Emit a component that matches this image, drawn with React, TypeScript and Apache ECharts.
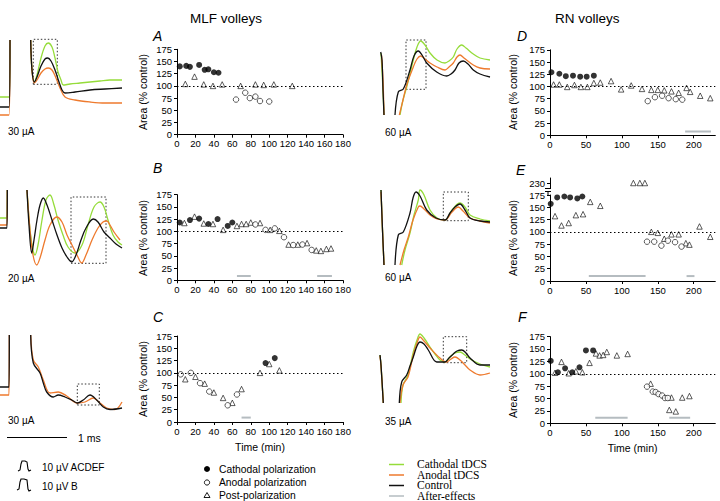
import React, { useEffect, useRef } from "react";
import * as echarts from "echarts";

const GREEN = "#95dc3a";
const ORANGE = "#ee7a2e";
const BLACK = "#111111";
const GRAY = "#b5bcc0";
const FONT = "'Liberation Sans', Arial, Helvetica, sans-serif";
const SERIF = "'Liberation Serif', 'Times New Roman', serif";

// ---------- scatter data: [time (min), area (% control)] ----------
const aCath = [[3,140],[10,141],[14,139],[24,143],[30,133],[34,134],[40,128],[45,127]];
const aAnod = [[64,72],[74,86],[79,75],[85,78],[90,69],[100,68]];
const aPost = [[9,104],[19,119],[29,103],[39,100],[49,103],[69,100],[85,103],[94,102],[105,103],[125,100]];
const aAfter: number[][][] = [];

const bCath = [[3,118],[14,123],[24,126],[34,115],[44,125],[55,111],[60,118]];
const bAnod = [[85,114],[96,103],[106,106],[116,88],[126,72],[136,73],[146,62]];
const bPost = [[8,117],[19,130],[29,116],[39,115],[50,103],[65,111],[70,115],[75,115],[80,118],[90,117],[101,103],[111,101],[121,73],[131,73],[141,76],[151,61],[156,60],[162,64],[167,65]];
const bAfter = [[[65,9],[80,9]],[[152,9],[168,9]]];

const cCath = [[96,120],[106,130]];
const cAnod = [[4,97],[15,100],[25,79],[35,62],[55,34],[65,56]];
const cPost = [[9,87],[20,92],[30,78],[40,60],[50,49],[60,39],[70,67],[90,100],[100,118],[111,105]];
const cAfter = [[[70,9],[80,9]]];

const dCath = [[2,129],[13,126],[22,121],[32,122],[42,120],[51,120],[61,122]];
const dAnod = [[136,70],[146,78],[156,81],[165,76],[175,74],[184,73]];
const dPost = [[5,104],[13,104],[24,99],[34,103],[43,99],[52,99],[61,107],[70,108],[85,111],[99,94],[113,102],[128,95],[141,93],[150,93],[159,92],[169,90],[179,87],[190,97],[195,89],[209,81],[223,76]];
const dAfter = [[[188,8],[224,8]]];

const eCath = [[1,157],[10,170],[20,172],[28,170],[38,168],[45,172]];
const eAnod = [[135,80],[145,80],[155,72],[164,82],[174,79],[183,70]];
const ePost = [[7,132],[16,113],[26,118],[36,134],[46,136],[56,161],[70,153],[141,100],[150,98],[159,86],[169,95],[179,95],[189,77],[194,74],[208,111],[223,90]];
const ePostHigh = [[116,230],[125,230],[132,230]];
const eAfter = [[[54,10],[133,10]],[[190,10],[201,10]]];

const fCath = [[1,126],[11,103],[21,111],[31,103],[41,113],[50,147],[60,147]];
const fAnod = [[135,74],[143,64],[147,63],[151,59],[156,56],[160,51],[164,51]];
const fPost = [[7,102],[16,124],[26,101],[36,105],[45,103],[55,122],[64,141],[69,137],[74,138],[79,144],[93,137],[108,140],[140,80],[169,52],[166,27],[175,24],[184,52],[194,55]];
const fAfter = [[[63,11],[108,11]],[[166,11],[195,11]]];

const mlfTicks = [0, 20, 40, 60, 80, 100, 120, 140, 160, 180];
const rnTicks = [0, 50, 100, 150, 200];

// ---------- volley traces: [time (a.u.), amplitude (a.u.)], segments ----------
const trAGreen = [[[0,23],[9,23],[10,80]],[[30.7,80],[32,50],[34.3,38],[37,45],[41,62],[45,74],[48.3,77],[52,73],[55,62],[58,48],[61,40],[63.3,35],[70,36],[80,37],[90,38],[100,39],[110,40],[122,40]]];
const trABlack = [[[0,13],[9,13],[10,80]],[[30.7,80],[32,50],[34.3,38],[37,43],[41,54],[45,61],[47.7,62],[51,59],[55,50],[59,38],[62,30],[65,27],[75,28],[90,30],[105,31],[122,32]]];
const trAOrange = [[[0,5],[9,5],[10,80]],[[30.7,80],[32,50],[34.3,37],[37,40],[41,47],[45,51],[48.3,52],[52,50],[56,42],[60,32],[65,23],[75,20],[90,18],[105,17],[122,17]]];

const trBGreen = [[[0,52],[7,52],[7.3,80]],[[27,80],[30,40],[33,20],[35,15],[38,25],[42,50],[46,70],[50,75],[54,65],[58,50],[63,35],[68,23],[75,17],[82,25],[88,45],[94,63],[100,68],[104,63],[108,50],[113,35],[118,28],[122,25]]];
const trBBlack = [[[0,42],[7,42],[7.3,80]],[[27,80],[29,45],[31.7,17],[34,30],[37,50],[40,65],[43.3,72],[47,65],[52,50],[57,35],[62,22],[67,13],[71.7,8],[76,15],[81,30],[86,42],[93.3,51],[98,48],[104,38],[110,32],[116,26],[122,22]]];
const trBOrange = [[[0,45],[7,45],[7.3,80]],[[27,80],[30,40],[33,15],[36.7,5],[40,12],[45,30],[50,45],[56.7,53],[62,48],[67,35],[72,25],[77,15],[81.7,7],[86,15],[92,30],[98,42],[103,48],[106.7,49],[110,45],[114,38],[120,30]]];

const trCBlack = [[[0,23],[9,23],[9.3,75]],[[30.7,75],[33.3,47],[40,37],[43.3,27],[46.7,18],[53.3,13],[58.3,15],[65,13],[71.7,10],[77.3,7],[83.3,10],[90,15],[96.7,10],[103.3,3],[110,0.5],[122,2]]];
const trCOrange = [[[0,15],[9,15],[9.3,75]],[[30.7,75],[33.3,50],[38.3,43],[43.3,30],[50,17],[58.3,18],[66.7,14],[77.3,7],[85,8],[93.3,12],[100,7],[106.7,2],[115,0.5],[122,8]]];

const trDGreen = [[[11,67],[12.5,40],[14,5]],[[30,5],[33,20],[36.7,33],[43.3,60],[47,73],[50.7,79],[55,75],[60,67],[67,60],[75,57],[79,59],[83.3,63],[87,71],[91.7,75],[96,72],[103.3,66],[110,62],[120,60]]];
const trDOrange = [[[11.5,65],[13,40],[14,5]],[[29.3,5],[33,20],[36.7,35],[43.3,53],[47,61],[50.7,64],[55,61],[60,57],[67,53],[75,50],[79,53],[83.3,57],[87,63],[90,65],[94,62],[103.3,55],[110,52],[120,51]]];
const trDBlack = [[[10.7,68],[12,60],[13,30],[14,5]],[[25,5],[28.3,28],[33.3,31],[40,50],[44,64],[48.3,69],[52,65],[56.7,57],[66.7,48],[76.7,44],[81,46],[85,50],[89,57],[93.3,59],[98,56],[103.3,50],[110,46],[120,43]]];

const trEGreen = [[[11,80],[12.5,40],[14,5]],[[31.7,5],[35,20],[40,37],[44,55],[48.3,70],[50,80],[54,75],[60,60],[67,52],[75,50],[82,60],[90,67],[95,63],[100,55],[110,51],[120,49]]];
const trEOrange = [[[11,78],[12.5,40],[14,5]],[[30,5],[34,20],[38.3,33],[43,50],[48.3,63],[50,64],[54,61],[60,55],[67,51],[75,50],[82,58],[88.3,63],[93,59],[100,52],[110,49],[120,47]]];
const trEBlack = [[[11,80],[12.5,40],[14,5]],[[25,5],[28.3,35],[33.3,38],[40,57],[43,72],[46,78],[50,74],[56.7,60],[66,52],[75,50],[80,57],[85,63],[90,66],[95,60],[100,52],[110,49],[120,48]]];

const trFGreen = [[[10,55],[11,45],[13.3,7]],[[31,7],[33,25],[38,35],[43.3,58],[47,70],[50,76],[54,72],[60,63],[65,56],[70,50],[75,48],[80,53],[85,57],[90,58],[95,55],[100,51],[110,46],[120,43]]];
const trFOrange = [[[10,54],[11,44],[13.3,7]],[[30,7],[33,25],[38,33],[43.3,55],[47,67],[50,73],[54,69],[60,62],[70,52],[76.7,48],[81,51],[85,53],[90,50],[95,45],[100,40],[110,35],[120,37]]];
const trFBlack = [[[10,55],[11,45],[13.3,7]],[[29.3,7],[31.7,28],[36.7,35],[40,44],[43.3,53],[47,64],[50,68],[54,66],[58.3,60],[66.7,48],[75,48],[79,52],[83.3,56],[87,59],[91.7,60],[96,57],[100,52],[110,45],[120,45]]];

// zoom boxes (trace units)
const boxA = [[33.3, 35.7], [57.3, 80.7]];
const boxB = [[71, 6.7], [106, 73]];
const boxC = [[77.3, 5], [99.3, 26]];
const boxD = [[36, 30.7], [56, 80]];
const boxE = [[73.3, 49.3], [98.3, 78]];
const boxF = [[73.3, 47.3], [96.7, 73.3]];

export default function App() {
  const ref = useRef<HTMLDivElement>(null);
  useEffect(() => {
    if (!ref.current) return;
    const chart = echarts.init(ref.current, undefined, { renderer: "svg" });

    const grids: any[] = [];
    const xAxes: any[] = [];
    const yAxes: any[] = [];
    const series: any[] = [];

    const axisLine = { show: true, lineStyle: { color: "#000", width: 1 } };
    const axisTick = { show: true, length: 3, lineStyle: { color: "#000", width: 1 } };
    const lbl = { fontSize: 9.5, color: "#000", fontFamily: FONT };

    function addScatter(
      g: { left: number; top: number; width: number; height: number },
      xmax: number, xticks: number[], ymin: number, ymax: number, yticks: number[],
      data: { cath: number[][]; anod: number[][]; post: number[][]; after: number[][][] },
      opts: { timeName?: boolean; hideX?: boolean; refLine?: boolean }
    ) {
      const gi = grids.length;
      grids.push(g);
      xAxes.push({
        gridIndex: gi, type: "value", min: 0, max: xmax,
        show: !opts.hideX,
        axisLine, axisTick: { ...axisTick, customValues: xticks },
        axisLabel: { ...lbl, margin: 4, customValues: xticks },
        splitLine: { show: false },
        name: opts.timeName ? "Time (min)" : "",
        nameLocation: "middle", nameGap: 19,
        nameTextStyle: { fontSize: 10.5, color: "#000", fontFamily: FONT },
      });
      yAxes.push({
        gridIndex: gi, type: "value", min: ymin, max: ymax, offset: 2,
        axisLine, axisTick: { ...axisTick, customValues: yticks },
        axisLabel: { ...lbl, margin: 3, customValues: yticks },
        splitLine: { show: false },
      });
      data.after.forEach((seg) => {
        series.push({
          type: "line", xAxisIndex: gi, yAxisIndex: gi, data: seg, symbol: "none",
          lineStyle: { color: GRAY, width: 2 }, silent: true,
        });
      });
      series.push({
        type: "scatter", xAxisIndex: gi, yAxisIndex: gi, data: data.post,
        symbol: "triangle", symbolSize: 5.5,
        itemStyle: { color: "#fff", borderColor: "#000", borderWidth: 0.8 },
        markLine: opts.refLine === false ? undefined : {
          silent: true, symbol: ["none", "none"], label: { show: false },
          lineStyle: { color: "#000", type: [1.5, 2.5], width: 1 },
          data: [{ yAxis: 100 }],
        },
      });
      series.push({
        type: "scatter", xAxisIndex: gi, yAxisIndex: gi, data: data.anod,
        symbol: "circle", symbolSize: 5.5,
        itemStyle: { color: "#fff", borderColor: "#000", borderWidth: 0.8 },
      });
      series.push({
        type: "scatter", xAxisIndex: gi, yAxisIndex: gi, data: data.cath,
        symbol: "circle", symbolSize: 6, itemStyle: { color: "#000" },
      });
    }

    function addTraces(
      g: { left: number; top: number; width: number; height: number },
      traces: { segs: number[][][]; color: string }[],
      box: number[][]
    ) {
      const gi = grids.length;
      grids.push(g);
      xAxes.push({ gridIndex: gi, type: "value", min: 0, max: g.width, show: false });
      yAxes.push({ gridIndex: gi, type: "value", min: 0, max: g.height, show: false });
      traces.forEach((t, ti) => {
        t.segs.forEach((seg, si) => {
          series.push({
            type: "line", xAxisIndex: gi, yAxisIndex: gi, data: seg,
            symbol: "none", smooth: 0.35, clip: true,
            lineStyle: { color: t.color, width: 1.3 }, silent: true,
            markArea: ti === 0 && si === 1 ? {
              silent: true,
              itemStyle: { color: "rgba(0,0,0,0)", borderColor: "#333", borderWidth: 1, borderType: [1.5, 2] },
              data: [[{ coord: box[0] }, { coord: box[1] }]],
            } : undefined,
          });
        });
      });
    }

    const yt = [0, 25, 50, 75, 100, 125, 150, 175];
    addScatter({ left: 177, top: 49.3, width: 166, height: 85.4 }, 180, mlfTicks, 0, 175, yt,
      { cath: aCath, anod: aAnod, post: aPost, after: aAfter }, {});
    addScatter({ left: 177, top: 194.6, width: 166, height: 85.7 }, 180, mlfTicks, 0, 175, yt,
      { cath: bCath, anod: bAnod, post: bPost, after: bAfter }, {});
    addScatter({ left: 177, top: 336, width: 166, height: 86 }, 180, mlfTicks, 0, 175, yt,
      { cath: cCath, anod: cAnod, post: cPost, after: cAfter }, { timeName: true });
    addScatter({ left: 550, top: 49.8, width: 165.3, height: 85.5 }, 230, rnTicks, 0, 175, yt,
      { cath: dCath, anod: dAnod, post: dPost, after: dAfter }, {});
    addScatter({ left: 550, top: 195, width: 165.3, height: 86 }, 230, rnTicks, 0, 175, yt,
      { cath: eCath, anod: eAnod, post: ePost, after: eAfter }, {});
    addScatter({ left: 550, top: 178, width: 165.3, height: 10 }, 230, rnTicks, 225, 235, [230],
      { cath: [], anod: [], post: ePostHigh, after: [] }, { hideX: true, refLine: false });
    addScatter({ left: 550, top: 336.6, width: 165.3, height: 86.7 }, 230, rnTicks, 0, 175, yt,
      { cath: fCath, anod: fAnod, post: fPost, after: fAfter }, { timeName: true });

    addTraces({ left: 0, top: 30, width: 125, height: 90 },
      [{ segs: trAGreen, color: GREEN }, { segs: trAOrange, color: ORANGE }, { segs: trABlack, color: BLACK }], boxA);
    addTraces({ left: 0, top: 190, width: 125, height: 80 },
      [{ segs: trBGreen, color: GREEN }, { segs: trBOrange, color: ORANGE }, { segs: trBBlack, color: BLACK }], boxB);
    addTraces({ left: 0, top: 335, width: 125, height: 75 },
      [{ segs: trCOrange, color: ORANGE }, { segs: trCBlack, color: BLACK }], boxC);
    addTraces({ left: 370, top: 35, width: 122, height: 85 },
      [{ segs: trDGreen, color: GREEN }, { segs: trDOrange, color: ORANGE }, { segs: trDBlack, color: BLACK }], boxD);
    addTraces({ left: 370, top: 180, width: 122, height: 90 },
      [{ segs: trEGreen, color: GREEN }, { segs: trEOrange, color: ORANGE }, { segs: trEBlack, color: BLACK }], boxE);
    addTraces({ left: 370, top: 325, width: 122, height: 85 },
      [{ segs: trFGreen, color: GREEN }, { segs: trFOrange, color: ORANGE }, { segs: trFBlack, color: BLACK }], boxF);

    const txt = (x: number, y: number, text: string, extra: any = {}) => ({
      type: "text", x, y, silent: true,
      style: { text, fill: "#000", font: `10px ${FONT}`, align: "left", verticalAlign: "middle", ...extra },
    });
    const letter = (x: number, y: number, t: string) =>
      txt(x, y, t, { font: `italic 14px ${FONT}` });
    const ytitle = (x: number, y: number) => ({
      type: "text", x, y, rotation: Math.PI / 2, silent: true,
      style: { text: "Area (% control)", fill: "#000", font: `10.5px ${FONT}`, align: "center", verticalAlign: "middle" },
    });

    const graphic: any[] = [
      txt(190, 18, "MLF volleys", { font: `13.5px ${FONT}` }),
      txt(555, 18, "RN volleys", { font: `13.5px ${FONT}` }),
      letter(153, 36, "A"), letter(153, 168, "B"), letter(153, 317, "C"),
      letter(517, 36, "D"), letter(516, 170, "E"), letter(518, 317, "F"),
      ytitle(143, 92), ytitle(143, 238), ytitle(143, 379),
      ytitle(513, 92), ytitle(513, 238), ytitle(513, 380),
      txt(8, 131, "30 µA"), txt(8, 278, "20 µA"), txt(8, 420, "30 µA"),
      txt(385, 132, "60 µA"), txt(385, 277, "60 µA"), txt(385, 421, "35 µA"),
      // axis break foot on panel E
      { type: "line", silent: true, shape: { x1: 545, y1: 188.5, x2: 551, y2: 188.5 }, style: { stroke: "#000", lineWidth: 1 } },
      { type: "line", silent: true, shape: { x1: 545, y1: 191.5, x2: 551, y2: 191.5 }, style: { stroke: "#000", lineWidth: 1 } },
      { type: "line", silent: true, shape: { x1: 548, y1: 191.5, x2: 548, y2: 195 }, style: { stroke: "#000", lineWidth: 1 } },
      { type: "line", silent: true, shape: { x1: 556, y1: 7, x2: 556, y2: 7 }, style: { stroke: "#fff", lineWidth: 0 } },
      { type: "line", silent: true, shape: { x1: 7, y1: 437.5, x2: 67, y2: 437.5 }, style: { stroke: "#000", lineWidth: 1 } },
      txt(78, 438, "1 ms", { font: `10.5px ${FONT}` }),
      { type: "polyline", silent: true, shape: { points: [[18, 471], [20, 470], [21, 464], [22, 461], [25, 461], [27, 462], [28, 469], [29, 471], [31, 470]] }, style: { stroke: "#000", lineWidth: 1.1, fill: "none" } },
      { type: "polyline", silent: true, shape: { points: [[17, 490], [19, 489], [20, 482], [21, 479], [24, 479], [27, 480], [28, 489], [29, 491], [31, 490]] }, style: { stroke: "#000", lineWidth: 1.1, fill: "none" } },
      txt(42, 467, "10 µV ACDEF", { font: `10px ${FONT}` }),
      txt(42, 486, "10 µV B", { font: `10px ${FONT}` }),
      // left legend (symbols)
      { type: "circle", silent: true, shape: { cx: 207, cy: 469, r: 3 }, style: { fill: "#000" } },
      { type: "circle", silent: true, shape: { cx: 207, cy: 482.5, r: 2.6 }, style: { fill: "#fff", stroke: "#000", lineWidth: 0.9 } },
      { type: "polygon", silent: true, shape: { points: [[207, 492.5], [210, 497.5], [204, 497.5]] }, style: { fill: "#fff", stroke: "#000", lineWidth: 0.9 } },
      txt(219, 469, "Cathodal polarization", { font: `10.3px ${FONT}` }),
      txt(219, 482.5, "Anodal polarization", { font: `10.3px ${FONT}` }),
      txt(219, 495.5, "Post-polarization", { font: `10.3px ${FONT}` }),
      // right legend (lines)
      { type: "line", silent: true, shape: { x1: 389, y1: 464.5, x2: 404, y2: 464.5 }, style: { stroke: GREEN, lineWidth: 1.5 } },
      { type: "line", silent: true, shape: { x1: 389, y1: 475, x2: 404, y2: 475 }, style: { stroke: ORANGE, lineWidth: 1.5 } },
      { type: "line", silent: true, shape: { x1: 389, y1: 485.5, x2: 404, y2: 485.5 }, style: { stroke: BLACK, lineWidth: 1.5 } },
      { type: "line", silent: true, shape: { x1: 389, y1: 496, x2: 404, y2: 496 }, style: { stroke: GRAY, lineWidth: 1.5 } },
      txt(417, 463.5, "Cathodal tDCS", { font: `11.5px ${SERIF}` }),
      txt(417, 474.5, "Anodal tDCS", { font: `11.5px ${SERIF}` }),
      txt(417, 485, "Control", { font: `11.5px ${SERIF}` }),
      txt(417, 495.5, "After-effects", { font: `11.5px ${SERIF}` }),
    ];

    chart.setOption({
      animation: false,
      backgroundColor: "#fff",
      grid: grids,
      xAxis: xAxes,
      yAxis: yAxes,
      series,
      graphic,
    });
    return () => chart.dispose();
  }, []);
  return <div ref={ref} style={{ width: 720, height: 501, position: "absolute", left: 0, top: 0 }} />;
}
